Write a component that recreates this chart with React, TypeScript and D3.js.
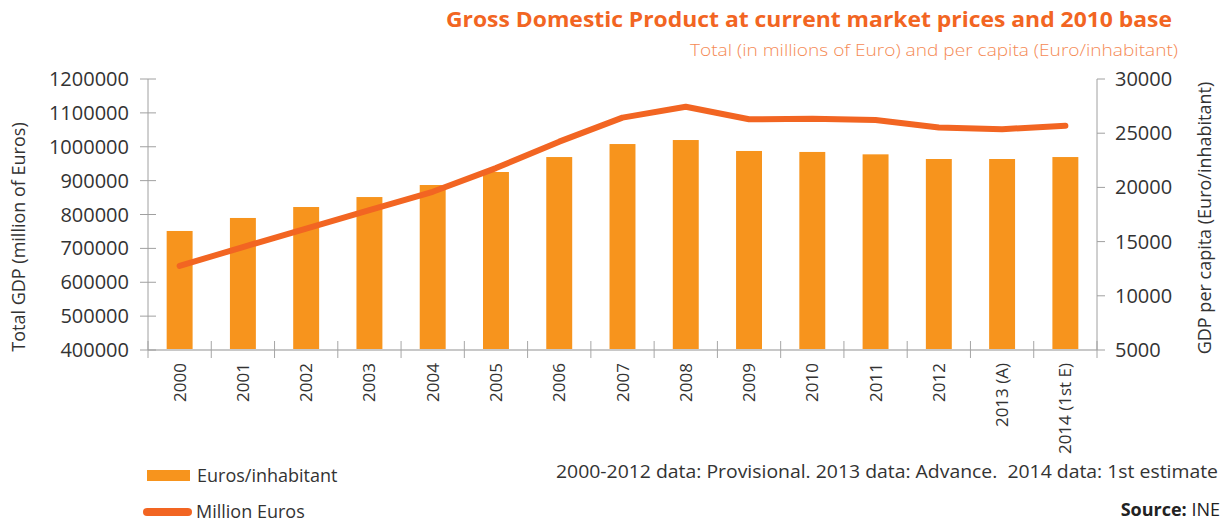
import React from "react";
import * as d3 from "d3";

// categories and values
const years = ["2000", "2001", "2002", "2003", "2004", "2005", "2006", "2007", "2008", "2009", "2010", "2011", "2012", "2013 (A)", "2014 (1st E)"];
const perCapita = [15980, 17180, 18190, 19110, 20220, 21420, 22800, 24000, 24370, 23360, 23270, 23050, 22620, 22620, 22800];
const totalGdp = [648000, 704000, 758000, 813000, 867000, 937000, 1015000, 1086000, 1118000, 1081000, 1083000, 1079000, 1057000, 1052000, 1062000];
const leftTicks = [400000, 500000, 600000, 700000, 800000, 900000, 1000000, 1100000, 1200000];
const rightTicks = [5000, 10000, 15000, 20000, 25000, 30000];

const W = 1226;
const H = 525;
const left = 148;
const right = 1097;
const top = 79;
const bottom = 350;

const FONT = "'Open Sans', 'DejaVu Sans', sans-serif";
const BAR = "#f7941d";
const LINE = "#f26522";
const TEXT = "#333333";

const App = () => {
  const x = d3.scaleBand<string>().domain(years).range([left, right]).padding(0);
  const yLeft = d3.scaleLinear().domain([400000, 1200000]).range([bottom, top]);
  const yRight = d3.scaleLinear().domain([5000, 30000]).range([bottom, top]);

  const bw = x.bandwidth() * 0.41;
  const center = (d: string) => (x(d) as number) + x.bandwidth() / 2;

  const linePath = d3.line<number>()
    .x((_, i) => center(years[i]))
    .y(d => yLeft(d))(totalGdp) as string;

  const boundaries = d3.range(years.length + 1).map(i => left + i * x.step());

  return (
    <svg width={W} height={H} style={{ position: "absolute", left: 0, top: 0, fontFamily: FONT }}>
      {/* title */}
      <text x={1172} y={27} textAnchor="end" fontSize={22} fontWeight="bold" fill={LINE}
        textLength={726} lengthAdjust="spacingAndGlyphs">
        Gross Domestic Product at current market prices and 2010 base
      </text>
      <text x={1178} y={56} textAnchor="end" fontSize={17} fontWeight={300} fill="#f58a55"
        textLength={488} lengthAdjust="spacingAndGlyphs">
        Total (in millions of Euro) and per capita (Euro/inhabitant)
      </text>

      {/* bars */}
      {years.map((d, i) => (
        <rect key={d} x={center(d) - bw / 2} y={yRight(perCapita[i])} width={bw}
          height={bottom - yRight(perCapita[i])} fill={BAR} />
      ))}

      {/* x baseline and ticks */}
      <line x1={left} x2={right} y1={bottom} y2={bottom} stroke="#c8c8c8" strokeWidth={2} />
      {boundaries.map((bx, i) => (
        <line key={i} x1={bx} x2={bx} y1={341} y2={358} stroke="#a6a6a6" strokeWidth={1} />
      ))}
      {years.map(d => (
        <text key={d} transform={`translate(${center(d) + 6},${363}) rotate(-90)`} textAnchor="end"
          fontSize={17} fill={TEXT}>{d}</text>
      ))}

      {/* left axis */}
      <line x1={left} x2={left} y1={top} y2={bottom} stroke="#a0a0a0" />
      {leftTicks.map(t => (
        <g key={t}>
          <line x1={left - 8} x2={left + 8} y1={yLeft(t)} y2={yLeft(t)} stroke="#a0a0a0" />
          <text x={129} y={yLeft(t)} dy="0.35em" textAnchor="end" fontSize={20} fill={TEXT}>{t}</text>
        </g>
      ))}
      <text transform={`translate(25,${237}) rotate(-90)`} textAnchor="middle" fontSize={18} fill={TEXT}>
        Total GDP (million of Euros)
      </text>

      {/* right axis */}
      <line x1={right} x2={right} y1={top} y2={bottom} stroke="#a0a0a0" />
      {rightTicks.map(t => (
        <g key={t}>
          <line x1={right} x2={right + 8} y1={yRight(t)} y2={yRight(t)} stroke="#a0a0a0" />
          <text x={1115} y={yRight(t)} dy="0.35em" textAnchor="start" fontSize={20} fill={TEXT}>{t}</text>
        </g>
      ))}
      <text transform={`translate(1211,${218}) rotate(-90)`} textAnchor="middle" fontSize={18} fill={TEXT}>
        GDP per capita (Euro/inhabitant)
      </text>

      {/* total GDP line */}
      <path d={linePath} fill="none" stroke={LINE} strokeWidth={6} strokeLinecap="round" strokeLinejoin="round" />

      {/* legend */}
      <rect x={147} y={470} width={43} height={11} fill={BAR} />
      <text x={197} y={482} fontSize={18} fill={TEXT}>Euros/inhabitant</text>
      <line x1={147} x2={188} y1={512} y2={512} stroke={LINE} strokeWidth={8} strokeLinecap="round" />
      <text x={196} y={518} fontSize={18} fill={TEXT}>Million Euros</text>

      {/* notes */}
      <text x={1218} y={478} textAnchor="end" fontSize={18} fill={TEXT} style={{ whiteSpace: "pre" }}
        textLength={662} lengthAdjust="spacingAndGlyphs">
        {"2000-2012 data: Provisional. 2013 data: Advance.  2014 data: 1st estimate"}
      </text>
      <text x={1220} y={516} textAnchor="end" fontSize={18} fill="#222">
        <tspan fontWeight="bold">Source:</tspan> INE
      </text>
    </svg>
  );
};

export default App;
